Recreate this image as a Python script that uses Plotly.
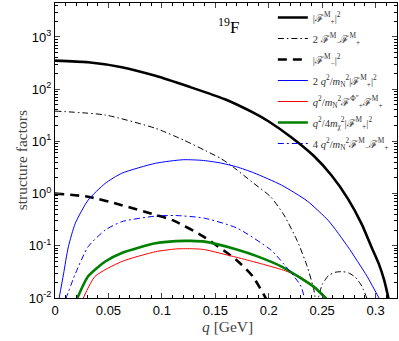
import plotly.graph_objects as go

# |F+|^2
q_fp = [0, 0.031, 0.0625, 0.094, 0.125, 0.159, 0.186, 0.2, 0.221, 0.242, 0.259, 0.274, 0.287, 0.296, 0.303, 0.308, 0.313]
fp = [352, 327, 263, 180, 112, 64, 35, 24, 12, 5.3, 2.2, 0.8, 0.26, 0.096, 0.045, 0.022, 0.008]

# 2 F- F+ (two lobes)
q_fmfp = [0, 0.047, 0.094, 0.1204, 0.141, 0.1548, 0.1642, 0.186, 0.2017, 0.2142, 0.227, 0.236, 0.242, 0.2445,
          None, 0.2445, 0.25, 0.256, 0.262, 0.269, 0.275, 0.281, 0.287, 0.2935]
fmfp = [38, 32, 17.8, 10.6, 6.6, 4.74, 3.53, 1.57, 0.87, 0.39, 0.12, 0.04, 0.015, 0.007,
        None, 0.007, 0.018, 0.027, 0.031, 0.032, 0.03, 0.025, 0.017, 0.008]

# |F-|^2
q_fm = [0, 0.031, 0.0625, 0.094, 0.11, 0.139, 0.17, 0.185, 0.199]
fm = [1.0, 0.87, 0.6, 0.39, 0.31, 0.15, 0.053, 0.026, 0.0085]

# 2 q^2/mN^2 |F+|^2
q_blue = [0.0035, 0.008, 0.0125, 0.019, 0.031, 0.047, 0.0625, 0.094, 0.12, 0.139, 0.155, 0.17,
          0.186, 0.212, 0.236, 0.256, 0.274, 0.292, 0.305]
blue = [0.009, 0.029, 0.096, 0.27, 0.75, 1.57, 2.45, 3.8, 4.45, 4.3, 3.85, 3.25,
        2.5, 1.45, 0.72, 0.3, 0.096, 0.026, 0.0085]

# q^2/mN^2 F+^Phi'' F+
q_red = [0.026, 0.0375, 0.0625, 0.094, 0.113, 0.127, 0.139, 0.17, 0.19, 0.214, 0.23, 0.242, 0.257]
red = [0.0095, 0.026, 0.05, 0.077, 0.087, 0.088, 0.085, 0.06, 0.047, 0.034, 0.025, 0.017, 0.0088]

# q^2/4m_chi^2 |F+|^2
q_green = [0.0205, 0.031, 0.047, 0.0625, 0.094, 0.113, 0.127, 0.14, 0.17, 0.19, 0.212, 0.23, 0.242, 0.256]
green = [0.0095, 0.026, 0.05, 0.073, 0.112, 0.123, 0.124, 0.12, 0.085, 0.062, 0.04, 0.024, 0.0165, 0.0088]

# 4 q^2/mN^2 F- F+
q_bdd = [0.0100, 0.019, 0.031, 0.047, 0.0625, 0.094, 0.113, 0.139, 0.17, 0.202, 0.214, 0.23, 0.234]
bdd = [0.0095, 0.029, 0.096, 0.2, 0.29, 0.37, 0.38, 0.34, 0.22, 0.083, 0.045, 0.017, 0.0088]

y_ticks = [0.01, 0.1, 1, 10, 100, 1000]
y_ticktext = ["10<sup>-2</sup>", "10<sup>-1</sup>", "10<sup>0</sup>", "10<sup>1</sup>", "10<sup>2</sup>", "10<sup>3</sup>"]

F = "ℱ"
names = [
    f"|{F}<sup>M</sup><sub>+</sub>|<sup>2</sup>",
    f"2 {F}<sup>M</sup><sub>−</sub>{F}<sup>M</sup><sub>+</sub>",
    f"|{F}<sup>M</sup><sub>−</sub>|<sup>2</sup>",
    f"2 <i>q</i><sup>2</sup>/<i>m</i><sub>N</sub><sup>2</sup>|{F}<sup>M</sup><sub>+</sub>|<sup>2</sup>",
    f"<i>q</i><sup>2</sup>/<i>m</i><sub>N</sub><sup>2</sup>{F}<sup>Φ″</sup><sub>+</sub>{F}<sup>M</sup><sub>+</sub>",
    f"<i>q</i><sup>2</sup>/4<i>m</i><sub>χ</sub><sup>2</sup>|{F}<sup>M</sup><sub>+</sub>|<sup>2</sup>",
    f"4 <i>q</i><sup>2</sup>/<i>m</i><sub>N</sub><sup>2</sup>{F}<sup>M</sup><sub>−</sub>{F}<sup>M</sup><sub>+</sub>",
]

series = [
    (q_fp, fp, "black", 2.6, "solid"),
    (q_fmfp, fmfp, "black", 1, "6px,3px,1.5px,3px"),
    (q_fm, fm, "black", 2.6, "9px,6px"),
    (q_blue, blue, "#0000ff", 1, "solid"),
    (q_red, red, "#ff0000", 1, "solid"),
    (q_green, green, "#008000", 2.6, "solid"),
    (q_bdd, bdd, "#0000ff", 1, "6px,3px,2px,3px"),
]

fig = go.Figure()
for i, (name, (x, y, col, w, dash)) in enumerate(zip(names, series)):
    fig.add_trace(go.Scatter(x=x, y=y, mode="lines", name=name, legendgroup=f"g{i}",
                             line=dict(color=col, width=w, dash=dash, shape="spline", smoothing=0.6)))

serif = "Liberation Serif"
fig.add_annotation(text="<sup>19</sup>F", x=0.162, y=3.21, xref="x", yref="y", showarrow=False,
                   font=dict(family=serif, size=17, color="black"))
# axis titles as annotations so they sit where the reference has them
fig.add_annotation(text="structure factors", x=-0.126, y=0.468, xref="paper", yref="paper", textangle=-90,
                   showarrow=False, font=dict(family=serif, size=15.5, color="#444"))
fig.add_annotation(text="<i>q</i> [GeV]", x=0.503, y=-0.097, xref="paper", yref="paper", yanchor="middle",
                   showarrow=False, font=dict(family=serif, size=15.5, color="#444"))

fig.update_layout(
    width=399, height=341, plot_bgcolor="white", paper_bgcolor="white",
    margin=dict(l=55, r=2, t=3, b=43),
    showlegend=True,
    legend=dict(x=0.637, y=1.0, xanchor="left", yanchor="top", bgcolor="rgba(0,0,0,0)",
                font=dict(family=serif, size=10.5, color="#333"),
                itemwidth=30, tracegroupgap=2),
    font=dict(family="Liberation Sans", color="black"),
)
fig.update_xaxes(range=[0, 0.32], dtick=0.05, tick0=0, ticks="inside", ticklen=5, mirror="allticks",
                 showline=True, linecolor="black", linewidth=1, showgrid=False, zeroline=False,
                 automargin=False, tickfont=dict(size=13, family="Liberation Sans"),
                 minor=dict(dtick=0.01, ticks="inside", ticklen=3, tickcolor="black"))
fig.update_yaxes(type="log", range=[-2, 3.65], tickvals=y_ticks, ticktext=y_ticktext, ticks="inside", ticklen=5,
                 mirror="allticks", showline=True, linecolor="black", linewidth=1, showgrid=False,
                 zeroline=False, automargin=False, tickfont=dict(size=13, family="Liberation Sans"),
                 minor=dict(dtick="D1", ticks="inside", ticklen=3, tickcolor="black"))

# page body has a default 8px margin; drop it so the figure sits at the window corner
fig.write_html("out.html", post_script="document.body.style.margin='0';",
               config={"displayModeBar": False})
